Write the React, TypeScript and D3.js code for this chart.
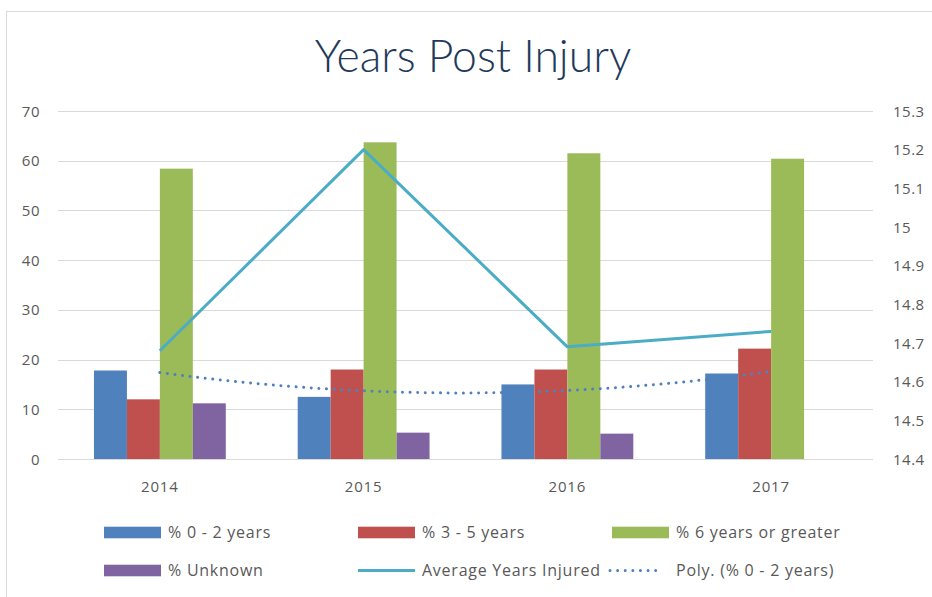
import React from "react";
import * as d3 from "d3";

const categories = ["2014", "2015", "2016", "2017"];
const pct0to2 = [17.8, 12.5, 15.0, 17.2];
const pct3to5 = [12.0, 18.0, 18.0, 22.2];
const pct6plus = [58.4, 63.7, 61.5, 60.4];
const pctUnknown = [11.2, 5.3, 5.1, 0];
const avgYearsInjured = [14.68, 15.2, 14.69, 14.73];
const leftTicks = [0, 10, 20, 30, 40, 50, 60, 70];
const rightTicks = [14.4, 14.5, 14.6, 14.7, 14.8, 14.9, 15, 15.1, 15.2, 15.3];

const barSeries = [
  { name: "% 0 - 2 years", values: pct0to2, color: "#4F81BD" },
  { name: "% 3 - 5 years", values: pct3to5, color: "#C0504D" },
  { name: "% 6 years or greater", values: pct6plus, color: "#9BBB59" },
  { name: "% Unknown", values: pctUnknown, color: "#8064A2" },
];

// quadratic least squares fit (Excel "Poly." trendline, order 2)
function polyFit2(ys: number[]) {
  const xs = ys.map((_, i) => i + 1);
  const n = xs.length;
  const S = (f: (x: number, y: number) => number) =>
    xs.reduce((s, x, i) => s + f(x, ys[i]), 0);
  const A = [
    [n, S((x) => x), S((x) => x * x)],
    [S((x) => x), S((x) => x * x), S((x) => x ** 3)],
    [S((x) => x * x), S((x) => x ** 3), S((x) => x ** 4)],
  ];
  const b = [S((_, y) => y), S((x, y) => x * y), S((x, y) => x * x * y)];
  const M = A.map((r, i) => [...r, b[i]]);
  for (let i = 0; i < 3; i++) {
    for (let k = i + 1; k < 3; k++) {
      const f = M[k][i] / M[i][i];
      for (let j = i; j < 4; j++) M[k][j] -= f * M[i][j];
    }
  }
  const c = [0, 0, 0];
  for (let i = 2; i >= 0; i--) {
    let s = M[i][3];
    for (let j = i + 1; j < 3; j++) s -= M[i][j] * c[j];
    c[i] = s / M[i][i];
  }
  return (x: number) => c[0] + c[1] * x + c[2] * x * x;
}

export default function App() {
  const W = 932;
  const H = 597;
  const left = 58;
  const right = 873;
  const top = 111;
  const bottom = 459;

  const x = d3
    .scaleBand<string>()
    .domain(categories)
    .range([left, right])
    .paddingInner(0.353)
    .paddingOuter(0.1765);
  const step = x.step();
  const x1 = d3
    .scaleBand<string>()
    .domain(barSeries.map((s) => s.name))
    .range([0, x.bandwidth()]);
  const yL = d3.scaleLinear().domain([0, 70]).range([bottom, top]);
  const yR = d3.scaleLinear().domain([14.4, 15.3]).range([bottom, top]);
  const cx = (i: number) => (x(categories[0]) as number) + x.bandwidth() / 2 + i * step;

  const lineGen = d3
    .line<number>()
    .x((_, i) => cx(i))
    .y((d) => yR(d));

  const fit = polyFit2(pct0to2);
  const samples = d3.range(0, 3.0001, 0.05);
  const trendGen = d3
    .line<number>()
    .x((t) => cx(t))
    .y((t) => yL(fit(t + 1)));

  const font = "'Open Sans', 'Noto Sans', sans-serif";
  const tickColor = "#595959";

  const legendCols = [104, 358, 612];
  const legendRows = [532.5, 570.5];
  const legendItems = [
    { label: "% 0 - 2 years", type: "bar", color: "#4F81BD" },
    { label: "% 3 - 5 years", type: "bar", color: "#C0504D" },
    { label: "% 6 years or greater", type: "bar", color: "#9BBB59" },
    { label: "% Unknown", type: "bar", color: "#8064A2" },
    { label: "Average Years Injured", type: "line", color: "#4BACC6" },
    { label: "Poly. (% 0 - 2 years)", type: "dot", color: "#4F81BD" },
  ];

  return (
    <svg
      width={W}
      height={H}
      style={{ position: "absolute", left: 0, top: 0, background: "#fff" }}
    >
      <rect x={0} y={0} width={W} height={H} fill="#fff" />
      <rect x={6.5} y={11.5} width={W + 20} height={H + 20} fill="none" stroke="#d9d9d9" strokeWidth={1} />
      <text
        x={473}
        y={72}
        textAnchor="middle"
        fontFamily="Lato, 'Open Sans', sans-serif"
        fontWeight={300}
        fontSize={44.5}
        fill="#1F3A5C"
      >
        Years Post Injury
      </text>

      {leftTicks.map((t) => (
        <g key={"g" + t}>
          <line x1={left} x2={right} y1={Math.round(yL(t)) + 0.5} y2={Math.round(yL(t)) + 0.5} stroke="#d9d9d9" strokeWidth={1} />
          <text x={40} y={yL(t) + 5.5} textAnchor="end" fontFamily={font} fontSize={15} letterSpacing={0.5} fill={tickColor}>
            {t}
          </text>
        </g>
      ))}
      {rightTicks.map((t) => (
        <text key={"r" + t} x={893} y={yR(t) + 5.5} textAnchor="start" fontFamily={font} fontSize={15} letterSpacing={0.5} fill={tickColor}>
          {d3.format("~g")(t)}
        </text>
      ))}

      {categories.map((c, i) => (
        <g key={c}>
          {barSeries.map((s) =>
            s.values[i] > 0 ? (
              <rect
                key={s.name}
                x={(x(c) as number) + (x1(s.name) as number)}
                y={yL(s.values[i])}
                width={x1.bandwidth()}
                height={yL(0) - yL(s.values[i])}
                fill={s.color}
              />
            ) : null
          )}
          <text x={cx(i)} y={491.5} textAnchor="middle" fontFamily={font} fontSize={15} letterSpacing={0.8} fill={tickColor}>
            {c}
          </text>
        </g>
      ))}

      <path d={lineGen(avgYearsInjured) || ""} fill="none" stroke="#4BACC6" strokeWidth={3} strokeLinejoin="round" />
      <path
        d={trendGen(samples) || ""}
        fill="none"
        stroke="#4F81BD"
        strokeWidth={3}
        strokeLinecap="round"
        strokeDasharray="0.01 7.6"
      />

      {legendItems.map((it, k) => {
        const lx = legendCols[k % 3];
        const ly = legendRows[Math.floor(k / 3)];
        return (
          <g key={it.label}>
            {it.type === "bar" && <rect x={lx} y={ly - 5.8} width={57} height={11.6} fill={it.color} />}
            {it.type === "line" && <line x1={lx} x2={lx + 57} y1={ly} y2={ly} stroke={it.color} strokeWidth={3} />}
            {it.type === "dot" && (
              <line x1={lx - 2} x2={lx + 48} y1={ly} y2={ly} stroke={it.color} strokeWidth={3} strokeLinecap="round" strokeDasharray="0.01 7.6" />
            )}
            <text x={lx + 64} y={ly + 5.8} fontFamily={font} fontSize={16} letterSpacing={0.75} fill={tickColor}>
              {it.label}
            </text>
          </g>
        );
      })}
    </svg>
  );
}
